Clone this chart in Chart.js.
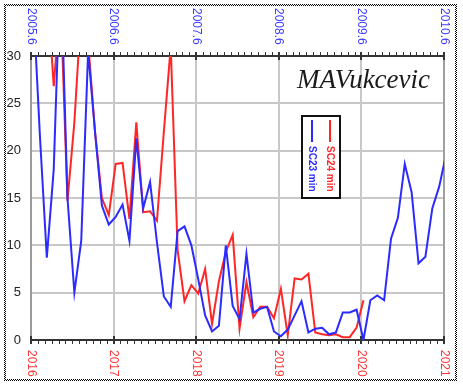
<!DOCTYPE html>
<html>
<head>
<meta charset="utf-8">
<script src="https://cdn.jsdelivr.net/npm/chart.js@4.4.1/dist/chart.umd.min.js"></script>
<style>
  html, body { margin: 0; padding: 0; background: #fff; }
  #wrap { width: 463px; height: 388px; }
</style>
</head>
<body>
<div id="wrap"><canvas id="chart" width="463" height="388"></canvas></div>
<script>
// --- DATA (monthly values) ---
// SC24: Jan 2016 onward, bottom axis. SC23: Aug 2005 onward, top axis.
const sc24Start = 2016;
const sc24Values = [40, 40, 38, 26.8, 36, 14.7, 23, 35, 31.5, 22, 15, 13.2,
    18.6, 18.7, 12.8, 23, 13.5, 13.6, 12.6, 22, 31, 9.5, 4.1, 5.8,
    4.9, 7.5, 1.7, 6.2, 9.3, 11.1, 1.2, 6.1, 2.4, 3.5, 3.5, 2.3,
    5.4, 0.5, 6.5, 6.4, 7.0, 0.8, 0.6, 0.5, 0.6, 0.3, 0.3, 1.3,
    4.2];

const sc23Start = 2005.6;
const sc23Values = [36, 21.5, 8.7, 18, 40, 15, 5.0, 10.5, 30.5, 22, 14.2, 12.2,
    13, 14.3, 10.5, 21.3, 13.9, 16.7, 10.3, 4.6, 3.5, 11.5, 12.0, 10.0,
    6.4, 2.6, 0.9, 1.5, 10.0, 3.6, 2.2, 9.1, 2.9, 3.3, 3.5, 0.9,
    0.4, 1.1, 2.6, 4.1, 0.8, 1.2, 1.3, 0.6, 0.8, 2.9, 2.9, 3.2,
    0.0, 4.2, 4.7, 4.2, 10.7, 12.9, 18.6, 15.6, 8.1, 8.8, 13.9, 16.2,
    19.6];

const bottomLabels = ['2016', '2017', '2018', '2019', '2020', '2021'];
const topLabels = ['2005.6', '2006.6', '2007.6', '2008.6', '2009.6', '2010.6'];
const yLabels = [0, 5, 10, 15, 20, 25, 30];
const seriesNames = ['SC24 min', 'SC23 min'];
const author = 'MAVukcevic';

const RED = '#ff2626';
const BLUE = '#2b2bff';

// month i sits a little past the start of its month
const toPoints = (start, values) => values.map((v, i) => ({ x: start + (i + 0.3) / 12, y: v }));

// --- DECORATION PLUGIN ---
const decorations = {
    id: 'decorations',
    beforeDraw(chart) {
        const ctx = chart.ctx;
        ctx.save();
        ctx.fillStyle = '#fff';
        ctx.fillRect(0, 0, chart.width, chart.height);
        ctx.restore();
    },
    beforeDatasetsDraw(chart) {
        const { ctx, chartArea: a } = chart;
        ctx.save();
        // right frame line
        ctx.fillStyle = '#a0a0a0';
        ctx.fillRect(a.right - 1, a.top, 2, a.bottom - a.top);
        ctx.restore();
    },
    afterDraw(chart) {
        const { ctx, chartArea: a } = chart;
        const x = chart.scales.x;
        const xTop = chart.scales.xTop;
        const y = chart.scales.y;
        ctx.save();

        // dotted outer frame (checker pattern)
        ctx.fillStyle = '#000';
        for (let px = 4; px <= 456; px++) {
            for (const py of [4, 5, 379, 380]) if ((px + py) % 2 === 0) ctx.fillRect(px, py, 1, 1);
        }
        for (let py = 4; py <= 380; py++) {
            for (const px of [4, 5, 455, 456]) if ((px + py) % 2 === 0) ctx.fillRect(px, py, 1, 1);
        }

        // monthly ticks on top and bottom axes
        ctx.fillStyle = '#333';
        for (let m = 0; m <= 60; m++) {
            const px = Math.round(x.getPixelForValue(sc24Start + m / 12));
            if (m % 12 === 0) {
                ctx.fillRect(px - 1, a.bottom - 4, 2, 8);
                ctx.fillRect(px - 1, a.top - 4, 2, 8);
            } else {
                ctx.fillRect(px, a.bottom, 1, 4);
                ctx.fillRect(px, a.top - 4, 1, 4);
            }
        }

        // y labels
        ctx.font = '13px "Liberation Sans", Arial, sans-serif';
        ctx.fillStyle = '#222';
        ctx.textAlign = 'right';
        ctx.textBaseline = 'middle';
        yLabels.forEach(v => ctx.fillText(String(v), 21, y.getPixelForValue(v)));

        // rotated x labels
        const rotText = (text, px, py, color, font) => {
            ctx.save();
            ctx.translate(px, py);
            ctx.rotate(Math.PI / 2);
            ctx.font = font;
            ctx.fillStyle = color;
            ctx.textAlign = 'left';
            ctx.textBaseline = 'middle';
            ctx.fillText(text, 0, 0);
            ctx.restore();
        };
        const tickFont = '12px "Liberation Sans", Arial, sans-serif';
        bottomLabels.forEach(l => rotText(l, x.getPixelForValue(+l), 350, '#ff3636', tickFont));
        topLabels.forEach(l => rotText(l, xTop.getPixelForValue(+l), 8, '#3c3cff', tickFont));

        // author
        ctx.font = 'italic 27px "Liberation Serif", serif';
        ctx.fillStyle = '#1a1a1a';
        ctx.textAlign = 'left';
        ctx.textBaseline = 'alphabetic';
        ctx.fillText(author, 297, 88);

        // legend box
        ctx.fillStyle = '#fff';
        ctx.fillRect(302, 116, 38, 82);
        ctx.strokeStyle = '#111';
        ctx.lineWidth = 2;
        ctx.strokeRect(302, 116, 38, 82);
        const legendItems = [[seriesNames[0], RED, 330], [seriesNames[1], BLUE, 312]];
        legendItems.forEach(([name, color, lx]) => {
            ctx.fillStyle = color;
            ctx.fillRect(lx - 1, 120, 2, 22);
            rotText(name, lx, 146, color, 'bold 10px "Liberation Sans", Arial, sans-serif');
        });

        ctx.restore();
    }
};

// --- CHART ---
new Chart(document.getElementById('chart'), {
    type: 'line',
    data: {
        datasets: [
            { label: seriesNames[1], data: toPoints(sc23Start, sc23Values), xAxisID: 'xTop',
              borderColor: BLUE, borderWidth: 2, pointRadius: 0, tension: 0 },
            { label: seriesNames[0], data: toPoints(sc24Start, sc24Values), xAxisID: 'x',
              borderColor: RED, borderWidth: 2, pointRadius: 0, tension: 0 }
        ]
    },
    options: {
        responsive: false,
        animation: false,
        devicePixelRatio: 1,
        layout: { padding: { left: 31, right: 19, top: 56, bottom: 48 } },
        plugins: { legend: { display: false }, tooltip: { enabled: false } },
        scales: {
            x: {
                type: 'linear', position: 'bottom', min: 2016, max: 2021,
                ticks: { display: false, stepSize: 1 },
                grid: { color: '#c8c8c8', lineWidth: 2, drawTicks: false },
                border: { color: '#333', width: 2 }
            },
            xTop: {
                type: 'linear', position: 'top', min: 2005.6, max: 2010.6,
                ticks: { display: false },
                grid: { display: false, drawTicks: false },
                border: { color: '#333', width: 2 }
            },
            y: {
                min: 0, max: 30,
                ticks: { display: false, stepSize: 5 },
                grid: { color: '#c8c8c8', lineWidth: 2, drawTicks: false },
                border: { color: '#999', width: 2 }
            }
        }
    },
    plugins: [decorations]
});
</script>
</body>
</html>
